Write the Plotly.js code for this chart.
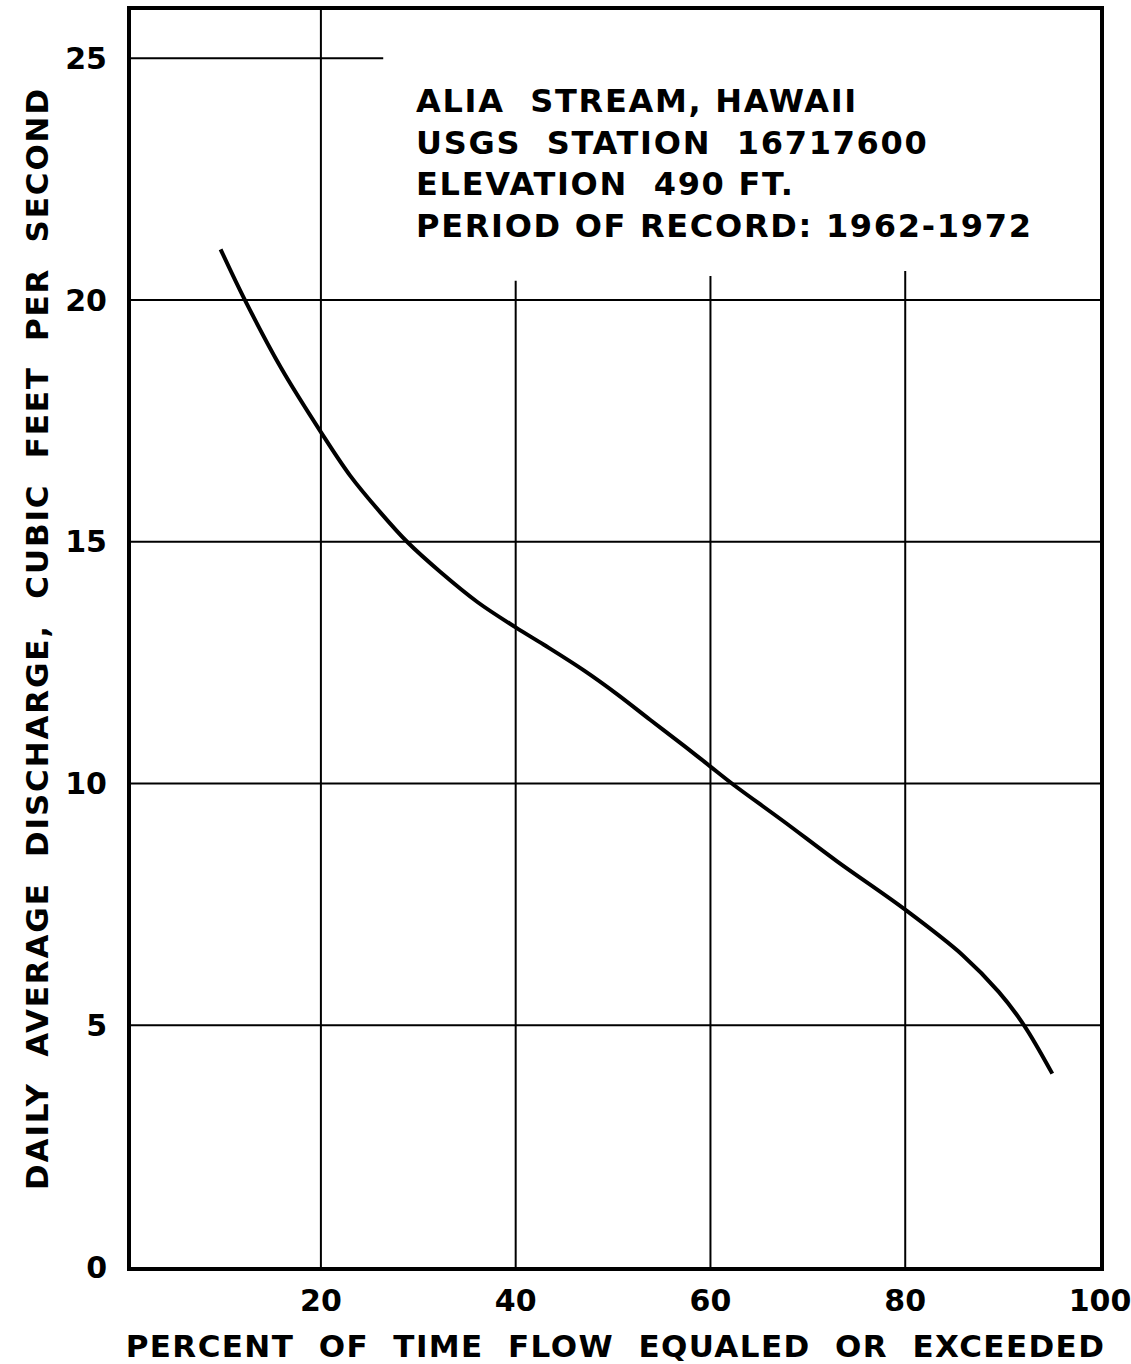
<!DOCTYPE html>
<html>
<head>
<meta charset="utf-8">
<script src="https://cdn.plot.ly/plotly-3.0.1.min.js"></script>
<style>
html,body{margin:0;padding:0;background:#fff;}
#chart{width:1131px;height:1364px;}
#chart .g-xtitle text{letter-spacing:1.4px;}
#chart .g-ytitle text{letter-spacing:1.85px;}
#chart .annotation-text{letter-spacing:1.7px;}
</style>
</head>
<body>
<div id="chart"></div>
<script>
// Flow-duration curve
const percentExceeded = [9.7, 12.2, 15.9, 20, 23.0, 26.1, 28.9, 32.3, 36.1, 40, 42.9, 47.0, 50.4, 53.8, 57.3, 60, 62.4, 67.5, 73, 80, 85.9, 89.6, 92.2, 95.1];
const dischargeCfs    = [21.05, 20, 18.6, 17.27, 16.37, 15.61, 14.99, 14.37, 13.75, 13.23, 12.87, 12.34, 11.85, 11.32, 10.78, 10.35, 9.97, 9.22, 8.39, 7.39, 6.45, 5.69, 5.0, 4.0];

const xTickVals = [20, 40, 60, 80, 100];
const xTickText = ['20', '40', '60', '80', '100'];
const yTickVals = [0, 5, 10, 15, 20, 25];
const yTickText = ['0', '5', '10', '15', '20', '25'];

// Partial grid lines as drawn on the original sheet
const vGridX    = [20, 40, 60, 80];
const vGridTop  = [26, 20.4, 20.5, 20.6];
const hGridY    = [5, 10, 15, 20, 25];
const hGridEnd  = [100, 100, 100, 100, 26.4];

const infoLines = ['ALIA\u00A0\u00A0STREAM,\u00A0HAWAII', 'USGS\u00A0\u00A0STATION\u00A0\u00A016717600', 'ELEVATION\u00A0\u00A0490\u00A0FT.', 'PERIOD\u00A0OF\u00A0RECORD:\u00A01962-1972'];

const X_MIN = 0.5, X_MAX = 100, Y_MIN = 0, Y_MAX = 26;
const FONT = 'DejaVu Sans, Liberation Sans, sans-serif';

const shapes = [];
vGridX.forEach((x, i) => shapes.push({type: 'line', xref: 'x', yref: 'y', x0: x, x1: x, y0: Y_MIN, y1: vGridTop[i], line: {color: '#000', width: 2}, layer: 'below'}));
hGridY.forEach((y, i) => shapes.push({type: 'line', xref: 'x', yref: 'y', x0: X_MIN, x1: hGridEnd[i], y0: y, y1: y, line: {color: '#000', width: 2}, layer: 'below'}));

const trace = {
  x: percentExceeded, y: dischargeCfs, type: 'scatter', mode: 'lines',
  line: {color: '#000', width: 4, shape: 'spline', smoothing: 1},
  hoverinfo: 'skip', showlegend: false
};

const layout = {
  width: 1131, height: 1364,
  margin: {l: 131, r: 31, t: 10, b: 97},
  paper_bgcolor: '#fff', plot_bgcolor: '#fff',
  showlegend: false,
  font: {family: FONT, color: '#000', size: 30, weight: 'bold'},
  xaxis: {
    range: [X_MIN, X_MAX], tickmode: 'array', tickvals: xTickVals, ticktext: xTickText,
    showgrid: false, zeroline: false, showline: true, mirror: true, linecolor: '#000', linewidth: 4,
    ticks: '', ticklabelstandoff: 4, ticklabeloverflow: 'allow',
    tickfont: {family: FONT, size: 30, weight: 'bold', color: '#000'},
    title: {text: 'PERCENT\u00A0\u00A0OF\u00A0\u00A0TIME\u00A0\u00A0FLOW\u00A0\u00A0EQUALED\u00A0\u00A0OR\u00A0\u00A0EXCEEDED', standoff: 20,
            font: {family: FONT, size: 31, weight: 'bold', color: '#000'}}
  },
  yaxis: {
    range: [Y_MIN, Y_MAX], tickmode: 'array', tickvals: yTickVals, ticktext: yTickText,
    showgrid: false, zeroline: false, showline: true, mirror: true, linecolor: '#000', linewidth: 4,
    ticks: '', ticklabelstandoff: 14,
    tickfont: {family: FONT, size: 30, weight: 'bold', color: '#000'},
    title: {text: 'DAILY\u00A0\u00A0AVERAGE\u00A0\u00A0DISCHARGE,\u00A0\u00A0CUBIC\u00A0\u00A0FEET\u00A0\u00A0PER\u00A0\u00A0SECOND', standoff: 8,
            font: {family: FONT, size: 31, weight: 'bold', color: '#000'}}
  },
  shapes: shapes,
  annotations: [{
    xref: 'x', yref: 'y', x: 29.6, y: 24.55, xanchor: 'left', yanchor: 'top', align: 'left',
    showarrow: false, text: infoLines.join('<br>'),
    font: {family: FONT, size: 32, weight: 'bold', color: '#000'}
  }]
};

Plotly.newPlot('chart', [trace], layout, {displayModeBar: false, staticPlot: true});
</script>
</body>
</html>
